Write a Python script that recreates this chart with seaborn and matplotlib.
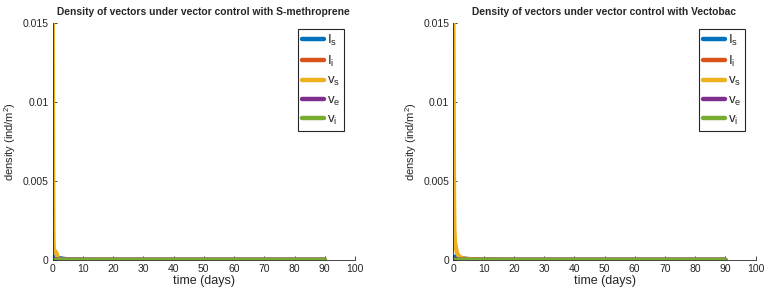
import numpy as np
import pandas as pd
import matplotlib
matplotlib.use("Agg")
import matplotlib.pyplot as plt
import seaborn as sns

# time points (days) and densities
t = [0, 0.1, 0.2, 0.3, 0.5, 0.8, 1.0, 1.3, 1.6, 2, 3, 5, 10, 20, 40, 60, 90]

meth_Is = [0, 0.00005, 0.0001, 0.00015, 0.0002, 0.0002, 0.0002, 0.00018, 0.00015, 0.00012, 0.00008, 0.00003, 0.00001, 0, 0, 0, 0]
meth_Ii = [0, 0, 0, 0, 0, 0, 0.00001, 0.00001, 0.00001, 0.00001, 0.00001, 0, 0, 0, 0, 0, 0]
meth_vs = [0.015, 0.006, 0.002, 0.0008, 0.0006, 0.0005, 0.0005, 0.0004, 0.0001, 0.00005, 0.00002, 0.00001, 0, 0, 0, 0, 0]
meth_ve = [0, 0.00002, 0.00003, 0.00003, 0.00003, 0.00003, 0.00003, 0.00002, 0.00002, 0.00001, 0.00001, 0, 0, 0, 0, 0, 0]
meth_vi = [0, 0, 0, 0, 0, 0, 0, 0, 0, 0, 0, 0, 0, 0, 0, 0, 0]

vect_Is = [0, 0.00005, 0.0001, 0.00015, 0.0002, 0.00022, 0.00022, 0.0002, 0.00018, 0.00015, 0.0001, 0.00005, 0.00002, 0, 0, 0, 0]
vect_Ii = [0, 0, 0, 0, 0, 0, 0.00001, 0.00001, 0.00001, 0.00001, 0.00001, 0, 0, 0, 0, 0, 0]
vect_vs = [0.015, 0.008, 0.004, 0.002, 0.0011, 0.0008, 0.0006, 0.0004, 0.0003, 0.0002, 0.0001, 0.00004, 0.00001, 0, 0, 0, 0]
vect_ve = [0, 0.00002, 0.00003, 0.00003, 0.00003, 0.00003, 0.00003, 0.00002, 0.00002, 0.00001, 0.00001, 0, 0, 0, 0, 0, 0]
vect_vi = [0, 0, 0, 0, 0, 0, 0, 0, 0, 0, 0, 0, 0, 0, 0, 0, 0]

labels = [r'$\mathrm{I_s}$', r'$\mathrm{I_i}$', r'$\mathrm{v_s}$', r'$\mathrm{v_e}$', r'$\mathrm{v_i}$']
colors = ['#0072BD', '#D95319', '#EDB120', '#7E2F8E', '#77AC30']

titles = ['Density of vectors under vector control with S-methroprene',
          'Density of vectors under vector control with Vectobac']
panels = [[meth_Is, meth_Ii, meth_vs, meth_ve, meth_vi],
          [vect_Is, vect_Ii, vect_vs, vect_ve, vect_vi]]

sns.set_style("white")
plt.rcParams['font.family'] = ['Liberation Sans', 'DejaVu Sans']
plt.rcParams['mathtext.fontset'] = 'custom'
plt.rcParams['mathtext.rm'] = 'Liberation Sans'

fig = plt.figure(figsize=(7.75, 2.95), dpi=100)
lefts = [0.068, 0.585]

for k in range(2):
    ax = fig.add_axes([lefts[k], 0.119, 0.39, 0.803])
    for lab, col, vals in zip(labels, colors, panels[k]):
        df = pd.DataFrame({'t': t, 'y': vals})
        sns.lineplot(data=df, x='t', y='y', ax=ax, color=col, linewidth=3.2,
                     label=lab, estimator=None)
    ax.set_xlim(0, 100)
    ax.set_ylim(0, 0.015)
    ax.set_xticks(np.arange(0, 101, 10))
    ax.set_yticks([0, 0.005, 0.01, 0.015])
    ax.set_yticklabels(['0', '0.005', '0.01', '0.015'])
    ax.tick_params(bottom=True, left=True, direction='in', length=3,
                   labelsize=7.5, width=0.6, colors='#262626', pad=3)
    for s in ['top', 'right']:
        ax.spines[s].set_visible(False)
    for s in ['left', 'bottom']:
        ax.spines[s].set_color('#262626')
        ax.spines[s].set_linewidth(0.6)
    ax.set_xlabel('time (days)', fontsize=9, labelpad=1)
    ax.set_ylabel('density (ind/m$^2$)', fontsize=8, labelpad=3)
    ax.set_title(titles[k], fontsize=7.4, fontweight='bold', pad=6)
    leg = ax.legend(loc='upper right', fontsize=9.5, handlelength=1.7,
                    handletextpad=0.2, labelspacing=0.45, borderpad=0.3,
                    borderaxespad=0.0, fancybox=False, framealpha=1,
                    bbox_to_anchor=(0.965, 0.975))
    leg.get_frame().set_edgecolor('#262626')
    leg.get_frame().set_linewidth(0.8)

fig.savefig('out.png', dpi=100)
